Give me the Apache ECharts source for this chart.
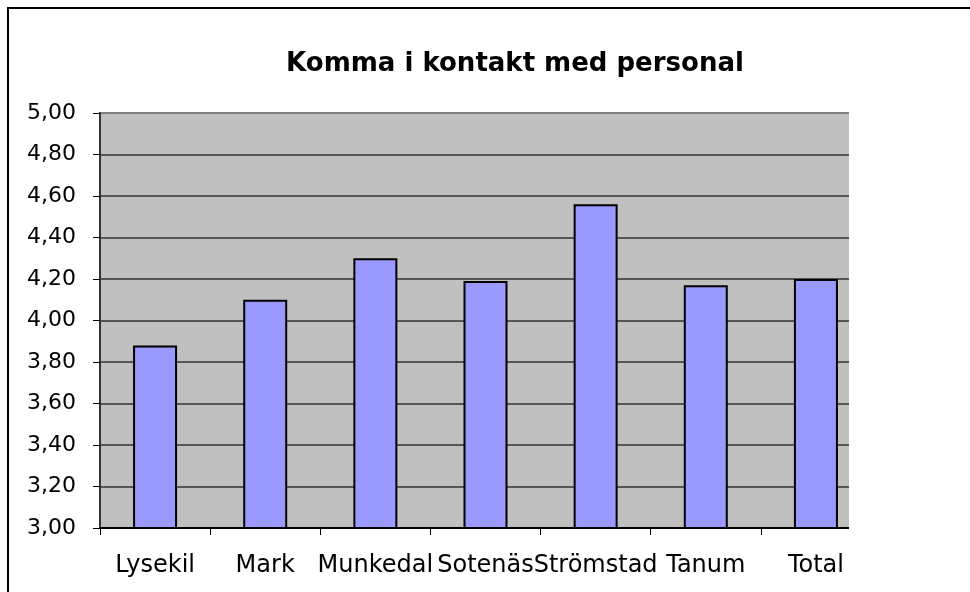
<!DOCTYPE html>
<html>
<head>
<meta charset="utf-8">
<script src="https://cdn.jsdelivr.net/npm/echarts@6/dist/echarts.min.js"></script>
<style>
  html, body { margin: 0; padding: 0; background: #fff; }
  #chart { width: 970px; height: 592px; }
</style>
</head>
<body>
<div id="chart"></div>
<script>
// 数据
const categories = ['Lysekil', 'Mark', 'Munkedal', 'Sotenäs', 'Strömstad', 'Tanum', 'Total']
const values = [3.88, 4.10, 4.30, 4.19, 4.56, 4.17, 4.20]
const yMin = 3
const yMax = 5
const yStep = 0.2

const font = 'DejaVu Sans'

const chart = echarts.init(document.getElementById('chart'), null, { renderer: 'canvas' })

const option = {
  animation: false,
  backgroundColor: '#fff',
  title: {
    text: 'Komma i kontakt med personal',
    left: 510,
    top: 46,
    textAlign: 'center',
    textStyle: { fontFamily: font, fontSize: 26, fontWeight: 'bold', color: '#000' }
  },
  grid: {
    left: 100,
    top: 113,
    width: 771,
    height: 415,
    show: true,
    backgroundColor: '#c0c0c0',
    borderColor: '#808080',
    borderWidth: 2
  },
  xAxis: {
    type: 'category',
    data: categories,
    axisLine: { lineStyle: { color: '#000', width: 2 } },
    axisTick: { show: true, length: 7, lineStyle: { color: '#000', width: 1 } },
    axisLabel: { interval: 0, margin: 26, color: '#000', fontFamily: font, fontSize: 24 }
  },
  yAxis: {
    type: 'value',
    min: yMin,
    max: yMax,
    interval: yStep,
    axisLine: { show: true, lineStyle: { color: '#333', width: 2 } },
    axisTick: { show: true, length: 7, lineStyle: { color: '#000', width: 1 } },
    axisLabel: {
      margin: 24,
      color: '#000',
      fontFamily: font,
      fontSize: 22,
      formatter: v => v.toFixed(2).replace('.', ',')
    },
    splitLine: { show: true, showMaxLine: false, lineStyle: { color: '#333', width: 1.5 } }
  },
  series: [{
    type: 'bar',
    data: values,
    barWidth: 44,
    itemStyle: { color: '#9999ff', borderColor: '#000', borderWidth: 2 }
  }],
  graphic: [
    // 右侧绘图区被裁掉的部分
    { type: 'rect', z: 100, shape: { x: 849, y: 100, width: 40, height: 445 }, style: { fill: '#fff' } },
    // 外框
    { type: 'rect', z: 100, shape: { x: 8, y: 8, width: 1000, height: 1000 }, style: { fill: 'none', stroke: '#000', lineWidth: 2 } }
  ]
}

chart.setOption(option)
</script>
</body>
</html>
